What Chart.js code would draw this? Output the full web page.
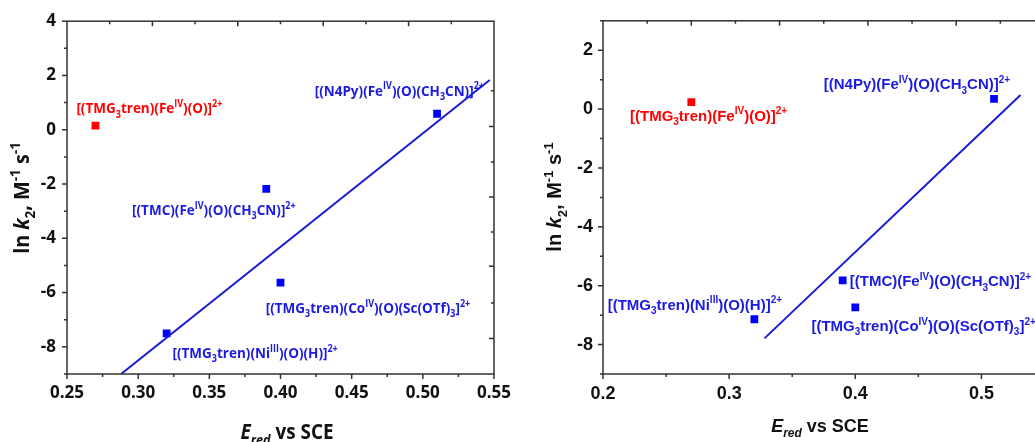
<!DOCTYPE html>
<html>
<head>
<meta charset="utf-8">
<script src="https://cdn.jsdelivr.net/npm/chart.js@4.4.1/dist/chart.umd.min.js"></script>
<style>
  html, body { margin: 0; padding: 0; background: #fff; overflow: hidden; }
  #wrap { position: relative; width: 1035px; height: 442px; overflow: hidden; }
  #leftBox { position: absolute; left: 0; top: 0; width: 520px; height: 442px; }
  #rightBox { position: absolute; left: 520px; top: 0; width: 530px; height: 442px; }
</style>
</head>
<body>
<div id="wrap">
  <div id="leftBox"><canvas id="leftChart"></canvas></div>
  <div id="rightBox"><canvas id="rightChart"></canvas></div>
</div>
<script>
// left panel data
const leftRedX = [0.27];
const leftRedY = [0.15];
const leftBlueX = [0.32, 0.39, 0.40, 0.51];
const leftBlueY = [-7.5, -2.18, -5.63, 0.59];
const leftFitX = [0.288, 0.547];
const leftFitY = [-9, 1.83];
const leftYTicks = [-8, -6, -4, -2, 0, 2, 4];

// right panel data
const rightRedX = [0.27];
const rightRedY = [0.24];
const rightBlueX = [0.32, 0.39, 0.40, 0.51];
const rightBlueY = [-7.14, -5.82, -6.74, 0.35];
const rightFitX = [0.328, 0.531];
const rightFitY = [-7.79, 0.48];
const rightYTicks = [-8, -6, -4, -2, 0, 2];

// frame ticks of the hidden top / right axes
const leftTopTicks = [0.28, 0.31, 0.34, 0.37, 0.40, 0.43, 0.46, 0.49, 0.52];
const leftRightTicks = [1.44, 0.12, -1.19, -2.48, -3.77, -5.03, -6.38, -7.69];
const rightTopTicks = [0.235, 0.27, 0.305, 0.34, 0.375, 0.41, 0.445, 0.48, 0.515];

const compounds = {
  feTmg: '[(TMG_{3}tren)(Fe^{IV})(O)]^{2+}',
  tmc: '[(TMC)(Fe^{IV})(O)(CH_{3}CN)]^{2+}',
  n4py: '[(N4Py)(Fe^{IV})(O)(CH_{3}CN)]^{2+}',
  co: '[(TMG_{3}tren)(Co^{IV})(O)(Sc(OTf)_{3}]^{2+}',
  ni: '[(TMG_{3}tren)(Ni^{III})(O)(H)]^{2+}'
};

const RED = '#ff0000';
const BLUE = '#0000ff';
const TEXT_BLUE = '#1a1ae0';
const FRAME = '#333333';

function pts(xs, ys) {
  return xs.map((x, i) => ({ x: x, y: ys[i] }));
}

// tiny markup: _{sub} ^{sup} *italic*
function parseRich(str) {
  const segs = [];
  let i = 0, italic = false, buf = '';
  const flush = () => { if (buf) segs.push({ t: buf, mode: 'n', it: italic }); buf = ''; };
  while (i < str.length) {
    const c = str[i];
    if ((c === '_' || c === '^') && str[i + 1] === '{') {
      flush();
      const end = str.indexOf('}', i);
      let inner = str.slice(i + 2, end);
      let it = italic;
      if (inner.startsWith('*') && inner.endsWith('*')) { inner = inner.slice(1, -1); it = true; }
      segs.push({ t: inner, mode: c === '_' ? 'sub' : 'sup', it: it });
      i = end + 1;
    } else if (c === '*') {
      flush();
      italic = !italic;
      i++;
    } else {
      buf += c;
      i++;
    }
  }
  flush();
  return segs;
}

function segFont(seg, size, family) {
  const s = seg.mode === 'n' ? size : Math.round(size * 0.66);
  return (seg.it ? 'italic ' : '') + 'bold ' + s + 'px ' + family;
}

function drawRich(ctx, str, x, y, opt) {
  const segs = parseRich(str);
  const size = opt.size;
  const sx = opt.stretch || 1;
  let total = 0;
  segs.forEach((s) => { ctx.font = segFont(s, size, opt.family); s.w = ctx.measureText(s.t).width; total += s.w; });
  let cx = opt.align === 'center' ? -total / 2 : 0;
  ctx.save();
  ctx.translate(x, y);
  ctx.scale(sx, 1);
  ctx.fillStyle = opt.color;
  ctx.textAlign = 'left';
  ctx.textBaseline = 'alphabetic';
  segs.forEach((s) => {
    ctx.font = segFont(s, size, opt.family);
    let dy = 0;
    if (s.mode === 'sub') dy = size * 0.28;
    if (s.mode === 'sup') dy = -size * 0.42;
    ctx.fillText(s.t, cx, dy);
    cx += s.w;
  });
  ctx.restore();
}

function framePlugin(cfg) {
  return {
    id: 'frame',
    afterDatasetsDraw(chart) {
      const ctx = chart.ctx;
      const a = chart.chartArea;
      const xs = chart.scales.x, ys = chart.scales.y;
      ctx.save();
      ctx.strokeStyle = FRAME;
      ctx.lineWidth = 1.5;
      ctx.strokeRect(a.left, a.top, a.right - a.left, a.bottom - a.top);
      ctx.beginPath();
      // left axis, outward
      for (let v = cfg.yMin; v <= cfg.yMax + 1e-9; v += 1) {
        const p = ys.getPixelForValue(v);
        const len = Math.abs(v % 2) < 1e-9 ? 5 : 3;
        ctx.moveTo(a.left, p); ctx.lineTo(a.left - len, p);
      }
      // bottom axis, outward
      for (let k = 0; ; k++) {
        const v = cfg.xMin + k * cfg.xMinor;
        if (v > cfg.xMax + 1e-9) break;
        const p = xs.getPixelForValue(v);
        const len = k % 2 === 0 ? 5 : 3;
        ctx.moveTo(p, a.bottom); ctx.lineTo(p, a.bottom + len);
      }
      // top axis, inward
      cfg.topTicks.forEach((v, k) => {
        const p = xs.getPixelForValue(v);
        const len = k % 2 === 1 ? 5 : 3;
        ctx.moveTo(p, a.top); ctx.lineTo(p, a.top + len);
      });
      // right axis, inward
      (cfg.rightTicks || []).forEach((v, k) => {
        const p = ys.getPixelForValue(v);
        const len = k % 2 === 1 ? 5 : 3;
        ctx.moveTo(a.right, p); ctx.lineTo(a.right - len, p);
      });
      ctx.stroke();
      ctx.restore();

      const fs = cfg.labelSize;
      cfg.labels.forEach((l) => {
        drawRich(ctx, l.text, xs.getPixelForValue(l.x), ys.getPixelForValue(l.y) + fs * 0.36,
          { size: fs, family: cfg.family, color: l.color, align: 'left', stretch: cfg.stretch });
      });

      // axis titles
      drawRich(ctx, '*E*_{*red*} vs SCE', cfg.xTitle.x, cfg.xTitle.y,
        { size: cfg.xTitle.size, family: cfg.family, color: '#111', align: 'center', stretch: cfg.stretch });
      ctx.save();
      ctx.translate(cfg.yTitle.x, cfg.yTitle.y);
      ctx.rotate(-Math.PI / 2);
      drawRich(ctx, 'ln *k*_{2}, M^{-1} s^{-1}', 0, 0,
        { size: cfg.yTitle.size, family: cfg.family, color: '#111', align: 'center', stretch: cfg.stretch });
      ctx.restore();
    }
  };
}

function makePanel(canvasId, cfg) {
  return new Chart(document.getElementById(canvasId), {
    type: 'scatter',
    data: {
      datasets: [
        {
          type: 'line',
          data: pts(cfg.fitX, cfg.fitY),
          borderColor: '#1a1ad6',
          borderWidth: 2,
          pointRadius: 0,
          fill: false
        },
        {
          data: pts(cfg.redX, cfg.redY),
          pointStyle: 'rect',
          radius: 5.5,
          backgroundColor: RED,
          borderColor: RED,
          borderWidth: 0
        },
        {
          data: pts(cfg.blueX, cfg.blueY),
          pointStyle: 'rect',
          radius: 5.5,
          backgroundColor: BLUE,
          borderColor: BLUE,
          borderWidth: 0
        }
      ]
    },
    options: {
      responsive: true,
      maintainAspectRatio: false,
      animation: false,
      events: [],
      layout: { padding: { top: cfg.padTop, right: cfg.padRight, left: 0, bottom: 0 } },
      plugins: { legend: { display: false }, tooltip: { enabled: false } },
      scales: {
        x: {
          type: 'linear',
          min: cfg.xMin,
          max: cfg.xMax,
          afterFit: (s) => { s.height = cfg.xAxisH; },
          grid: { display: false, drawTicks: false },
          border: { display: false },
          ticks: {
            stepSize: cfg.xStep,
            includeBounds: false,
            padding: cfg.xTickPad,
            color: '#111',
            font: { family: cfg.family, weight: 'bold', size: cfg.tickSize },
            callback: (v) => Number(v).toFixed(cfg.xDigits)
          }
        },
        y: {
          min: cfg.yMin,
          max: cfg.yMax,
          afterFit: (s) => { s.width = cfg.yAxisW; },
          afterBuildTicks: (s) => { s.ticks = cfg.yTicks.map((v) => ({ value: v })); },
          grid: { display: false, drawTicks: false },
          border: { display: false },
          ticks: {
            padding: cfg.yTickPad,
            color: '#111',
            font: { family: cfg.family, weight: 'bold', size: cfg.tickSize }
          }
        }
      }
    },
    plugins: [framePlugin(cfg)]
  });
}

makePanel('leftChart', {
  redX: leftRedX, redY: leftRedY, blueX: leftBlueX, blueY: leftBlueY, fitX: leftFitX, fitY: leftFitY,
  yTicks: leftYTicks,
  xMin: 0.25, xMax: 0.55, xStep: 0.05, xMinor: 0.025, xDigits: 2,
  yMin: -9, yMax: 4,
  padTop: 21, padRight: 13, xAxisH: 68, yAxisW: 67,
  xTickPad: 9, yTickPad: 11, tickSize: 17,
  family: '"Open Sans", sans-serif', labelSize: 15, stretch: 0.9,
  topTicks: leftTopTicks, rightTicks: leftRightTicks,
  xTitle: { x: 287, y: 439, size: 21 },
  yTitle: { x: 29, y: 198, size: 22 },
  labels: [
    { text: compounds.feTmg, x: 0.2566, y: 0.80, color: RED },
    { text: compounds.tmc, x: 0.2957, y: -2.95, color: TEXT_BLUE },
    { text: compounds.n4py, x: 0.424, y: 1.46, color: TEXT_BLUE },
    { text: compounds.co, x: 0.3896, y: -6.56, color: TEXT_BLUE },
    { text: compounds.ni, x: 0.3241, y: -8.22, color: TEXT_BLUE }
  ]
});

makePanel('rightChart', {
  redX: rightRedX, redY: rightRedY, blueX: rightBlueX, blueY: rightBlueY, fitX: rightFitX, fitY: rightFitY,
  yTicks: rightYTicks,
  xMin: 0.2, xMax: 0.55, xStep: 0.1, xMinor: 0.05, xDigits: 1,
  yMin: -9, yMax: 3,
  padTop: 19, padRight: 5, xAxisH: 68, yAxisW: 83,
  xTickPad: 9, yTickPad: 10, tickSize: 18,
  family: '"Liberation Sans", Arial, sans-serif', labelSize: 15, stretch: 1,
  topTicks: rightTopTicks, rightTicks: [],
  xTitle: { x: 300, y: 432, size: 18 },
  yTitle: { x: 41, y: 197, size: 20 },
  labels: [
    { text: compounds.n4py, x: 0.375, y: 0.855, color: TEXT_BLUE },
    { text: compounds.feTmg, x: 0.2214, y: -0.21, color: RED },
    { text: compounds.tmc, x: 0.3956, y: -5.84, color: TEXT_BLUE },
    { text: compounds.ni, x: 0.2037, y: -6.63, color: TEXT_BLUE },
    { text: compounds.co, x: 0.3652, y: -7.36, color: TEXT_BLUE }
  ]
});
</script>
</body>
</html>
